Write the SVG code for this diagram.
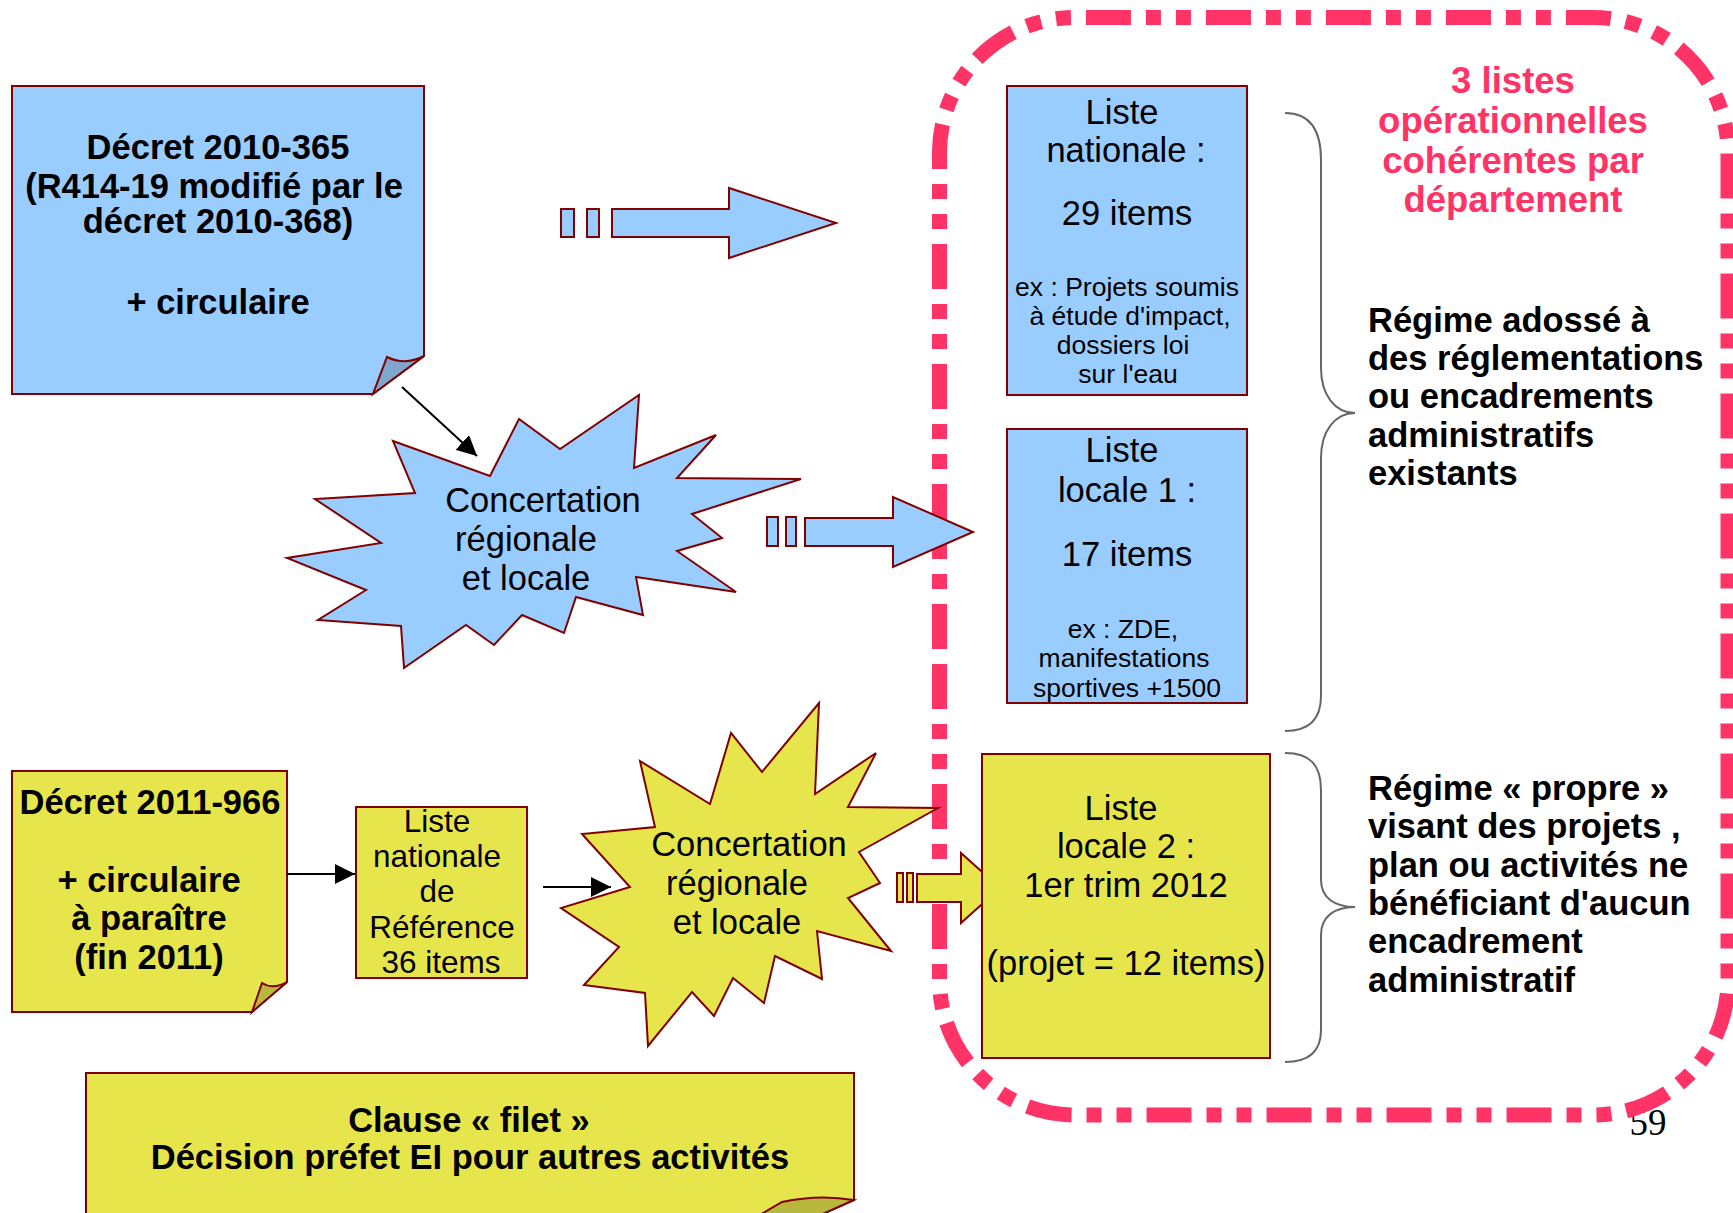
<svg xmlns="http://www.w3.org/2000/svg" width="1733" height="1213" viewBox="0 0 1733 1213">
<style>
.blue{fill:#99ccff;stroke:#800000;stroke-width:2;stroke-linejoin:miter}
.yel{fill:#e6e64c;stroke:#800000;stroke-width:2;stroke-linejoin:miter}
.foldb{fill:#7fa6cc;stroke:#800000;stroke-width:2}
.foldy{fill:#b8b83e;stroke:#800000;stroke-width:2}
.t{font-family:"Liberation Sans",Arial,sans-serif;font-size:34.5px;text-anchor:middle;fill:#000}
.b{font-weight:bold}
.s{font-size:26.5px}
.m{font-size:31.5px}
.l{text-anchor:start}
.red{fill:#ff3366;font-size:36.5px}
.frame{fill:none;stroke:#ff3366;stroke-width:15;stroke-dasharray:45 15 15 15 15 15}
.brace{fill:none;stroke:#666666;stroke-width:2}
.ln{stroke:#000;stroke-width:2;fill:none}
</style>
<defs>
<marker id="ah" markerUnits="userSpaceOnUse" markerWidth="20" markerHeight="20" viewBox="0 0 20 20" refX="20" refY="10" orient="auto">
<path d="M0,0 L20,10 L0,20 Z" fill="#000"/>
</marker>
</defs>
<rect width="1733" height="1213" fill="#ffffff"/>

<g id="page-number"><text x="1648" y="1135" style="font-family:'Liberation Serif','Times New Roman',serif;font-size:37px;text-anchor:middle">59</text></g>

<g id="frame-3-listes">
<path class="frame" d="M939.5,664 V980 A135,135 0 0 0 1074.5,1115 H1593 A135,135 0 0 0 1728,980 V152.5 A135,135 0 0 0 1593,17.5 H1074.5 A135,135 0 0 0 939.5,152.5 Z"/>
</g>

<g id="note-decret-2010">
<path class="blue" d="M12,86 H424 V356 L373,394 H12 Z"/>
<path class="foldb" d="M387,357 Q405,366 424,356 L373,394 Z"/>
<text class="t b" x="218"><tspan x="218" y="159">Décret 2010-365</tspan><tspan x="214" y="198">(R414-19 modifié par le</tspan><tspan x="218" y="233">décret 2010-368)</tspan><tspan x="218" y="314">+ circulaire</tspan></text>
</g>

<g id="star-concertation-1">
<path class="blue" d="M393,441 L490,476 L519,419 L560,449 L639,395 L634,468 L716,435 L677,478 L801,479 L692,514 L722,538 L677,551 L736,592 L636,577 L643,615 L576,597 L564,633 L522,615 L494,645 L466,625 L404,668 L401,626 L318,620 L366,590 L287,558 L381,543 L315,499 L415,493 Z"/>
<text class="t"><tspan x="543" y="512">Concertation</tspan><tspan x="526" y="551">régionale</tspan><tspan x="526" y="590">et locale</tspan></text>
</g>

<g id="liste-nationale">
<rect class="blue" x="1007" y="86" width="240" height="309"/>
<text class="t"><tspan x="1122" y="124">Liste</tspan><tspan x="1126" y="162">nationale :</tspan><tspan x="1127" y="225">29 items</tspan></text>
<text class="t s"><tspan x="1127" y="296">ex : Projets soumis</tspan><tspan x="1130" y="325">à étude d'impact,</tspan><tspan x="1123" y="354">dossiers loi</tspan><tspan x="1128" y="383">sur l'eau</tspan></text>
</g>

<g id="liste-locale-1">
<rect class="blue" x="1007" y="429" width="240" height="274"/>
<text class="t"><tspan x="1122" y="462">Liste</tspan><tspan x="1127" y="502">locale 1 :</tspan><tspan x="1127" y="566">17 items</tspan></text>
<text class="t s"><tspan x="1123" y="638">ex : ZDE,</tspan><tspan x="1124" y="667">manifestations</tspan><tspan x="1127" y="697">sportives +1500</tspan></text>
</g>

<g id="note-decret-2011">
<path class="yel" d="M12,771 H287 V982 L252,1012 H12 Z"/>
<path class="foldy" d="M262,983 Q273,990 287,982 L252,1012 Z"/>
<text class="t b"><tspan x="150" y="814">Décret 2011-966</tspan><tspan x="149" y="892">+ circulaire</tspan><tspan x="149" y="930">à paraître</tspan><tspan x="149" y="969">(fin 2011)</tspan></text>
</g>

<g id="liste-nationale-reference">
<rect class="yel" x="356" y="807" width="171" height="171"/>
<text class="t m"><tspan x="437" y="832">Liste</tspan><tspan x="437" y="867">nationale</tspan><tspan x="437" y="902">de</tspan><tspan x="442" y="938">Référence</tspan><tspan x="441" y="973">36 items</tspan></text>
</g>

<g id="connectors">
<line class="ln" x1="402" y1="387" x2="477" y2="456" marker-end="url(#ah)"/>
<line class="ln" x1="287" y1="874" x2="355" y2="874" marker-end="url(#ah)"/>
<line class="ln" x1="543" y1="887" x2="611" y2="887" marker-end="url(#ah)"/>
<g id="block-arrow-1">
<rect class="blue" x="561" y="209" width="13" height="28"/>
<rect class="blue" x="587" y="209" width="12" height="28"/>
<path class="blue" d="M612,209 H729 V188 L836,223 L729,258 V237 H612 Z"/>
</g>
<g id="block-arrow-2">
<rect class="blue" x="767" y="517" width="11" height="29"/>
<rect class="blue" x="786" y="517" width="10" height="29"/>
<path class="blue" d="M805,518 H893 V497 L973,532 L893,567 V546 H805 Z"/>
</g>
<g id="block-arrow-3">
<rect class="yel" x="897" y="873" width="6" height="29"/>
<rect class="yel" x="907" y="873" width="6" height="29"/>
<path class="yel" d="M917,874 H961 V853 L1000,888 L961,923 V902 H917 Z"/>
</g>
</g>

<g id="star-concertation-2">
<path class="yel" d="M640,761 L710,804 L731,733 L762,772 L819,703 L815,794 L876,753 L848,807 L938,808 L859,852 L880,883 L848,898 L891,951 L817,931 L822,979 L775,956 L764,1003 L733,978 L714,1016 L692,992 L648,1046 L645,993 L584,985 L619,947 L561,908 L630,887 L582,834 L655,827 Z"/>
<text class="t"><tspan x="749" y="856">Concertation</tspan><tspan x="737" y="895">régionale</tspan><tspan x="737" y="934">et locale</tspan></text>
</g>

<g id="liste-locale-2">
<rect class="yel" x="982" y="754" width="288" height="304"/>
<text class="t"><tspan x="1121" y="820">Liste</tspan><tspan x="1126" y="858">locale 2 :</tspan><tspan x="1126" y="897">1er trim 2012</tspan><tspan x="1126" y="975">(projet = 12 items)</tspan></text>
</g>

<g id="note-clause">
<path class="yel" d="M86,1073 H854 V1200 L818,1216 H86 Z"/>
<path class="foldy" d="M782,1202 Q818,1194 854,1200 L818,1216 L758,1216 Z"/>
<text class="t b"><tspan x="469" y="1132">Clause « filet »</tspan><tspan x="470" y="1169">Décision préfet EI pour autres activités</tspan></text>
</g>

<g id="brace-1"><path class="brace" d="M1285,113 C1310,113 1321,130 1321,160 L1321,368 C1321,395 1335,413 1355,413 C1335,413 1321,431 1321,458 L1321,696 C1321,720 1308,731 1285,731"/></g>
<g id="brace-2"><path class="brace" d="M1285,753 C1310,753 1321,765 1321,790 L1321,880 C1321,898 1335,907 1355,907 C1335,907 1321,916 1321,935 L1321,1030 C1321,1052 1308,1062 1285,1062"/></g>

<g id="title-3-listes">
<text class="t b red"><tspan x="1513" y="93">3 listes</tspan><tspan x="1513" y="133">opérationnelles</tspan><tspan x="1513" y="173">cohérentes par</tspan><tspan x="1513" y="212">département</tspan></text>
</g>

<g id="label-regime-adosse">
<text class="t b l"><tspan x="1368" y="332">Régime adossé à</tspan><tspan x="1368" y="370">des réglementations</tspan><tspan x="1368" y="408">ou encadrements</tspan><tspan x="1368" y="447">administratifs</tspan><tspan x="1368" y="485">existants</tspan></text>
</g>

<g id="label-regime-propre">
<text class="t b l"><tspan x="1368" y="800">Régime « propre »</tspan><tspan x="1368" y="838">visant des projets ,</tspan><tspan x="1368" y="877">plan ou activités ne</tspan><tspan x="1368" y="915">bénéficiant d'aucun</tspan><tspan x="1368" y="953">encadrement</tspan><tspan x="1368" y="992">administratif</tspan></text>
</g>
</svg>
